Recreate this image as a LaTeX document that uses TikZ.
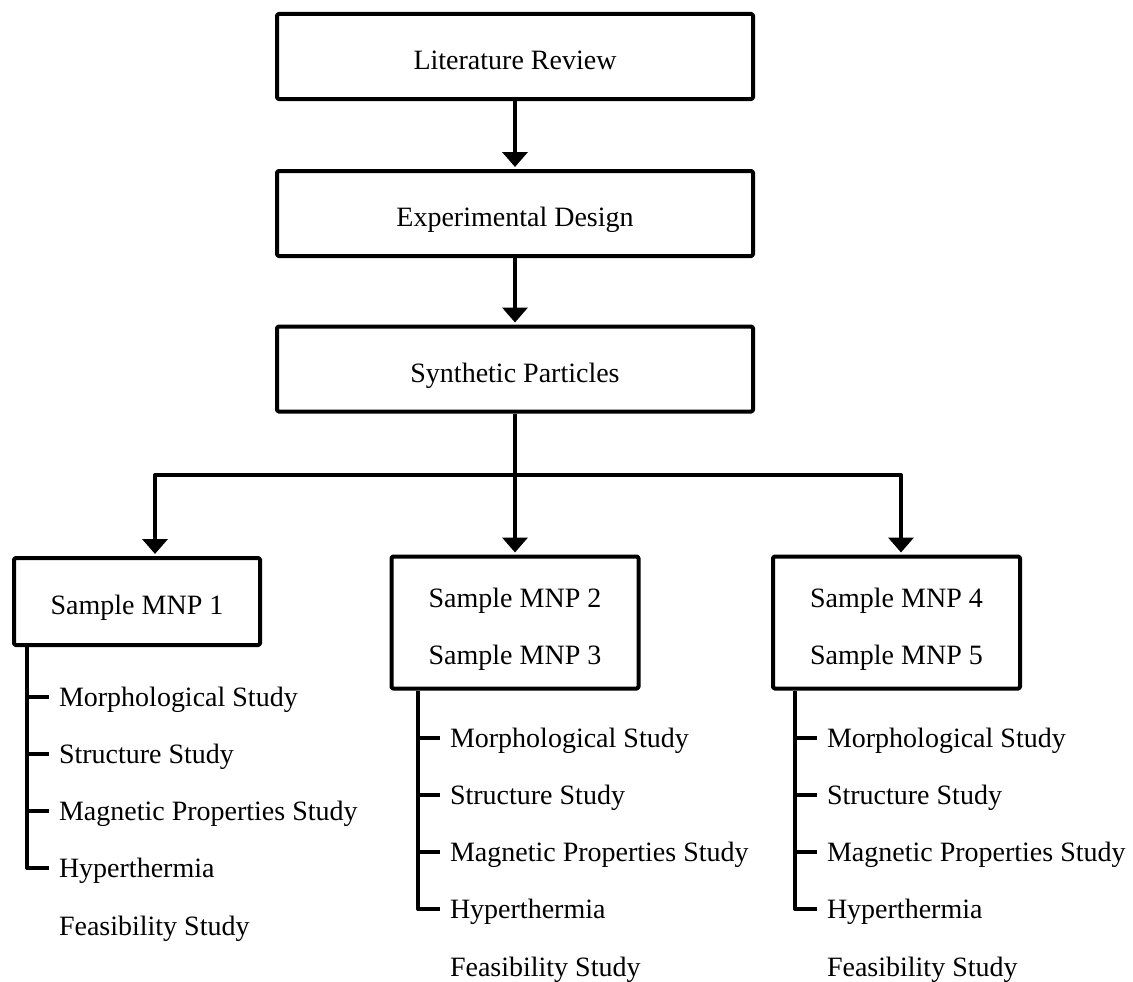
\documentclass[tikz,border=0pt]{standalone}
\usepackage{fontspec}
\setmainfont{Liberation Serif}
\usetikzlibrary{arrows.meta}
\begin{document}
\begin{tikzpicture}[x=1pt,y=-1pt,line width=4pt,line join=round,
  box/.style={draw,rounded corners=1.5pt,inner sep=0pt,align=center,
    text height=26pt,text depth=0pt,font=\fontsize{28}{57}\selectfont},
  twoline/.style={box,text height=83pt,minimum width=247pt,minimum height=132pt},
  topbox/.style={box,minimum width=476pt,minimum height=85pt},
  item/.style={anchor=base west,inner sep=0pt,text height=18pt,text depth=0pt,
    font=\fontsize{28}{34}\selectfont},
  arr/.style={-{Triangle[width=25pt,length=15pt]},shorten >=2pt}]
\useasboundingbox (0,0) rectangle (1133,982);

% main boxes
\node[topbox] (lit) at (515,56.5) {Literature Review};
\node[topbox] (exp) at (515,213.5) {Experimental Design};
\node[topbox] (syn) at (515,369) {Synthetic Particles};

\node[box,minimum width=246pt,minimum height=87pt] (m1) at (137,601.5) {Sample MNP 1};
\node[twoline] (m2) at (515,622.5) {Sample MNP 2\\Sample MNP 3};
\node[twoline] (m3) at (896.5,622.5) {Sample MNP 4\\Sample MNP 5};

% connectors
\draw[arr] (lit) -- (exp);
\draw[arr] (exp) -- (syn);
\draw[arr] (syn) -- (m2);
\coordinate (jL) at (155,475);
\coordinate (jR) at (901,475);
\draw[arr] (jR) -- (jL) -- (jL |- m1.north);
\draw[arr] (jL) -- (jR) -- (jR |- m3.north);

% left column items
\node[item] (a1) at (57,706) {Morphological Study};
\node[item] (a2) at (57,763) {Structure Study};
\node[item] (a3) at (57,820) {Magnetic Properties Study};
\node[item] (a4) at (57,877) {Hyperthermia};
\node[item] (a5) at (57,935) {Feasibility Study};

% middle column items
\node[item] (b1) at (448,747) {Morphological Study};
\node[item] (b2) at (448,804) {Structure Study};
\node[item] (b3) at (448,861) {Magnetic Properties Study};
\node[item] (b4) at (448,918) {Hyperthermia};
\node[item] (b5) at (448,976) {Feasibility Study};

% right column items
\node[item] (c1) at (825,747) {Morphological Study};
\node[item] (c2) at (825,804) {Structure Study};
\node[item] (c3) at (825,861) {Magnetic Properties Study};
\node[item] (c4) at (825,918) {Hyperthermia};
\node[item] (c5) at (825,976) {Feasibility Study};

% brackets
\foreach \bx/\it in {m1/a, m2/b, m3/c}{
  \draw ([xshift=-30pt]\it4.west |- \bx.south) -- ([xshift=-30pt]\it4.west) -- ([xshift=-8pt]\it4.west);
  \foreach \k in {1,2,3}{
    \draw ([xshift=-30pt]\it\k.west) -- ([xshift=-8pt]\it\k.west);
  }
}
\end{tikzpicture}
\end{document}
